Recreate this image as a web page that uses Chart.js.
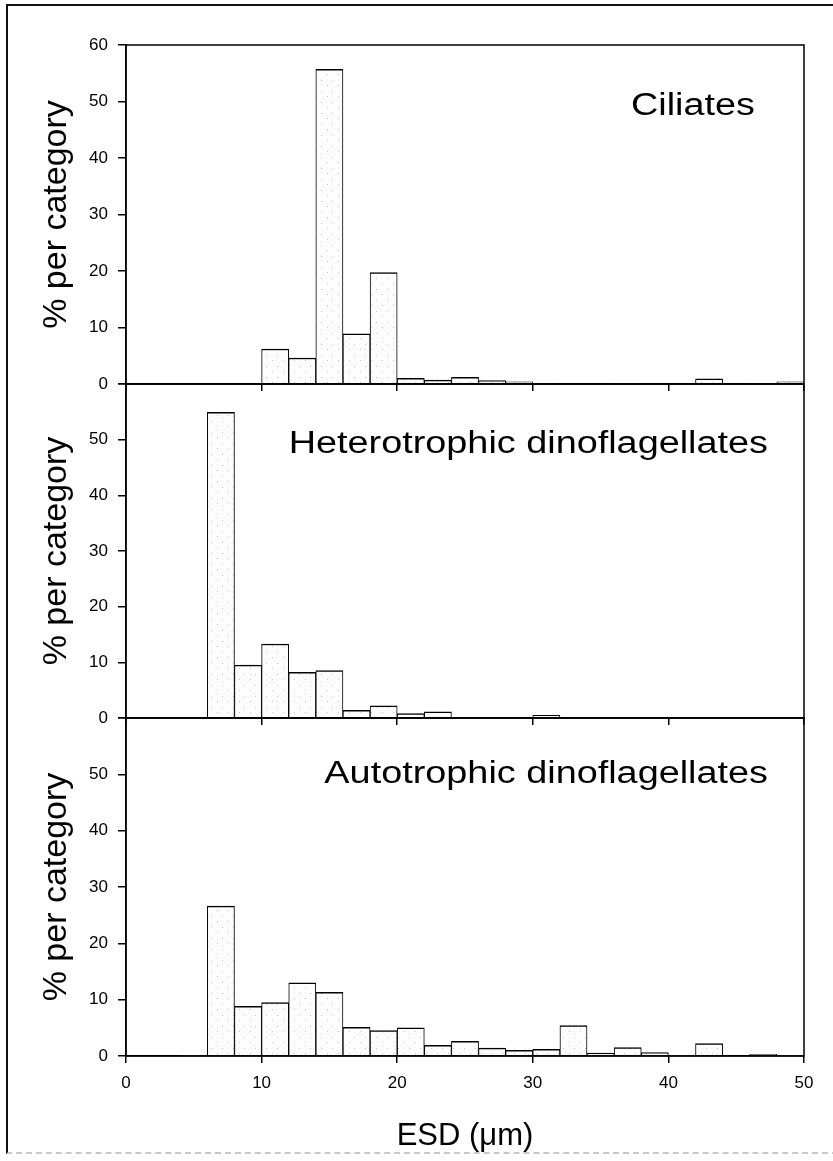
<!DOCTYPE html>
<html>
<head>
<meta charset="utf-8">
<script src="https://cdn.jsdelivr.net/npm/chart.js@4.4.1/dist/chart.umd.min.js"></script>
<style>
  html, body { margin: 0; padding: 0; background: #fff; }
  #wrap { position: relative; width: 833px; height: 1161px; overflow: hidden; }
  #frame { position: absolute; left: 6px; top: 4px; width: 830px; height: 1146px;
           border-left: 2px solid #111; border-top: 2px solid #111; border-bottom: 2px dashed #c8c8c8; }
  canvas { position: absolute; left: 0; top: 0; }
</style>
</head>
<body>
<div id="wrap">
  <div id="frame"></div>
  <canvas id="c1" width="833" height="1161"></canvas>
  <canvas id="c2" width="833" height="1161"></canvas>
  <canvas id="c3" width="833" height="1161"></canvas>
</div>
<script>
// ---- data (2 µm ESD bins, centre of each bin) ----
const binCentres = [1, 3, 5, 7, 9, 11, 13, 15, 17, 19, 21, 23, 25, 27, 29, 31, 33, 35, 37, 39, 41, 43, 45, 47, 49];
const ciliates      = [0, 0, 0, 0, 0, 6.2, 4.6, 55.7, 8.9, 19.7, 1.0, 0.7, 1.2, 0.6, 0.4, 0.1, 0, 0, 0.1, 0, 0, 0.9, 0, 0.1, 0.4];
const heteroDino    = [0, 0, 0, 54.9, 9.5, 13.3, 8.2, 8.5, 1.4, 2.2, 0.8, 1.1, 0.1, 0.1, 0, 0.5, 0, 0, 0, 0, 0, 0, 0, 0, 0];
const autoDino      = [0, 0, 0.1, 26.6, 8.8, 9.5, 13.0, 11.3, 5.1, 4.5, 5.0, 1.9, 2.6, 1.4, 1.0, 1.2, 5.4, 0.5, 1.5, 0.6, 0.1, 2.2, 0, 0.3, 0.1];
const panelTitles   = ['Ciliates', 'Heterotrophic dinoflagellates', 'Autotrophic dinoflagellates'];
const yTickValues   = [0, 10, 20, 30, 40, 50, 60];
const xTickValues   = [0, 10, 20, 30, 40, 50];
const yAxisTitle    = '% per category';
const xAxisTitle    = 'ESD (\u03BCm)';

// ---- stipple fill ----
function stipple() {
  const c = document.createElement('canvas');
  c.width = 11; c.height = 11;
  const g = c.getContext('2d');
  g.fillStyle = '#fdfdfd'; g.fillRect(0, 0, 11, 11);
  g.fillStyle = '#c4c4c4';
  [[2, 3], [8, 8]].forEach(p => g.fillRect(p[0], p[1], 1, 1));
  return g.createPattern(c, 'repeat');
}
const fillPattern = stipple();

const FONT = '"Liberation Sans", Arial, Helvetica, sans-serif';

const framePlugin = {
  id: 'frame',
  afterDatasetsDraw(chart) {
    const a = chart.chartArea, ctx = chart.ctx;
    ctx.save();
    ctx.strokeStyle = '#000';
    ctx.lineWidth = 1.5;
    ctx.strokeRect(a.left, a.top, a.right - a.left, a.bottom - a.top);
    ctx.restore();
  }
};

const titlePlugin = {
  id: 'panelTitle',
  afterDraw(chart, args, opts) {
    const a = chart.chartArea, ctx = chart.ctx;
    ctx.save();
    ctx.fillStyle = '#000';
    ctx.font = opts.size + 'px ' + FONT;
    ctx.textAlign = 'right';
    ctx.textBaseline = 'alphabetic';
    ctx.translate(a.right - opts.rightInset, a.top + opts.baseline);
    ctx.scale(opts.stretch, 1);
    ctx.fillText(opts.text, 0, 0);
    ctx.restore();
  }
};

function makePanel(id, values, title, geom) {
  const isBottom = geom.bottomAxis;
  return new Chart(document.getElementById(id), {
    type: 'bar',
    data: {
      datasets: [{
        data: binCentres.map((x, i) => ({ x: x, y: values[i] })),
        backgroundColor: fillPattern,
        borderColor: '#000',
        borderWidth: { top: 1.5, left: 1, right: 1, bottom: 0 },
        borderSkipped: 'start',
        barPercentage: 1.0,
        categoryPercentage: 1.0
      }]
    },
    options: {
      responsive: false,
      animation: false,
      devicePixelRatio: 1,
      layout: { padding: { top: geom.top, bottom: geom.bottomPad, left: 0, right: 29 } },
      plugins: {
        legend: { display: false },
        tooltip: { enabled: false },
        panelTitle: { text: title, size: 31, stretch: 1.22, rightInset: geom.rightInset, baseline: geom.baseline }
      },
      scales: {
        x: {
          type: 'linear',
          offset: false,
          min: 0, max: 50,
          afterBuildTicks: s => { s.ticks = xTickValues.map(v => ({ value: v })); },
          afterFit: s => { s.height = isBottom ? 100 : 8; },
          border: { display: true, color: '#000', width: 1.5 },
          grid: { display: true, offset: false, drawOnChartArea: false, drawTicks: true, tickLength: 7, color: '#000', lineWidth: 1.5 },
          ticks: { display: isBottom, color: '#000', padding: 10, maxRotation: 0, font: { family: FONT, size: 17 } },
          title: { display: isBottom, text: xAxisTitle, color: '#000', font: { family: FONT, size: 31 }, padding: { top: 0, bottom: 1 } }
        },
        y: {
          min: 0, max: 60,
          afterBuildTicks: s => { s.ticks = yTickValues.map(v => ({ value: v })); },
          afterFit: s => { s.width = 126; },
          border: { display: true, color: '#000', width: 1.5 },
          grid: { display: true, drawOnChartArea: false, drawTicks: true, tickLength: 8, color: '#000', lineWidth: 1.5 },
          ticks: {
            color: '#000', padding: 10, font: { family: FONT, size: 17 },
            callback: v => (geom.hideTop && v === 60) ? '' : String(v)
          },
          title: { display: true, text: yAxisTitle, color: '#000', font: { family: FONT, size: 34 }, padding: { top: 36, bottom: 0 } }
        }
      }
    },
    plugins: [framePlugin, titlePlugin]
  });
}

makePanel('c1', ciliates, panelTitles[0],
  { top: 45, bottomPad: 1161 - 384 - 8, bottomAxis: false, hideTop: false, rightInset: 49, baseline: 70 });
makePanel('c2', heteroDino, panelTitles[1],
  { top: 384, bottomPad: 1161 - 718 - 8, bottomAxis: false, hideTop: true, rightInset: 36, baseline: 69 });
makePanel('c3', autoDino, panelTitles[2],
  { top: 718, bottomPad: 5, bottomAxis: true, hideTop: true, rightInset: 36, baseline: 65 });
</script>
</body>
</html>
